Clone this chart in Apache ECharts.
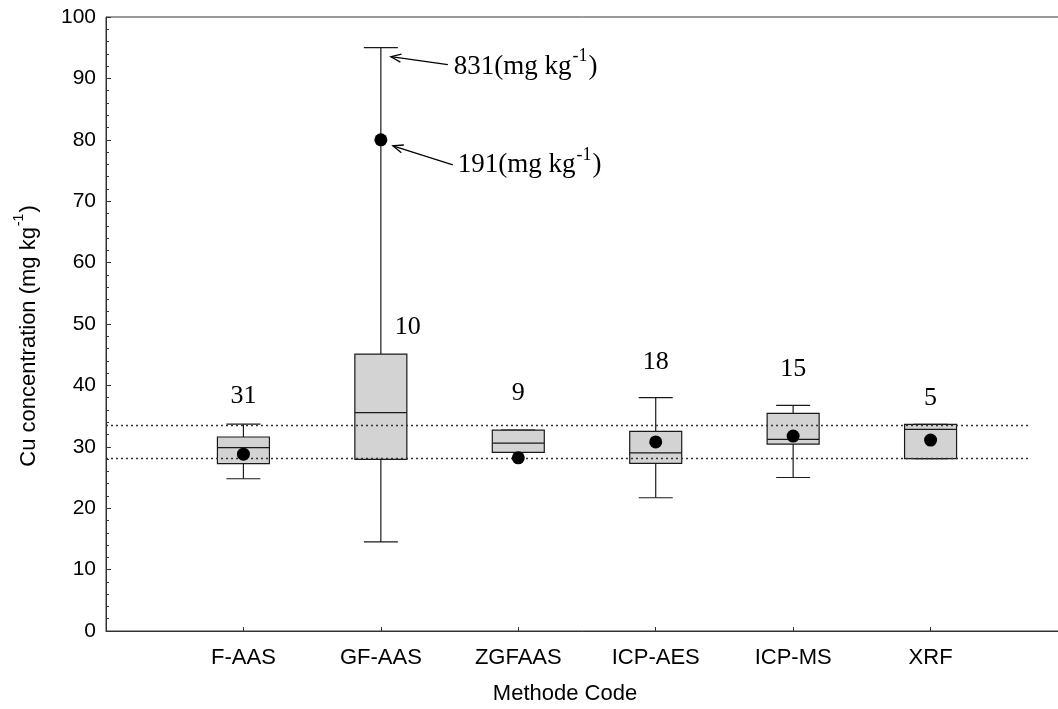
<!DOCTYPE html>
<html>
<head>
<meta charset="utf-8">
<script src="https://cdn.jsdelivr.net/npm/echarts@6/dist/echarts.min.js"></script>
<style>
html, body { margin: 0; padding: 0; background: #fff; }
#main { width: 1058px; height: 709px; }
</style>
</head>
<body>
<div id="main"></div>
<script>
// values (mg kg-1)
var methods = ['F-AAS', 'GF-AAS', 'ZGFAAS', 'ICP-AES', 'ICP-MS', 'XRF'];
var whiskerLow = [24.8, 14.5, 29.1, 21.7, 25.0, 28.06];
var q1 = [27.25, 27.96, 29.1, 27.3, 30.45, 28.06];
var median = [29.85, 35.55, 30.6, 29.0, 31.2, 32.85];
var q3 = [31.6, 45.1, 32.7, 32.5, 35.45, 33.65];
var whiskerHigh = [33.7, 95, 32.7, 38.0, 36.75, 33.65];
var means = [28.8, 80, 28.2, 30.8, 31.75, 31.1];
var counts = [31, 10, 9, 18, 15, 5];
var countY = [38.3, 49.5, 38.8, 43.8, 42.7, 37.9];
var refLines = [33.5, 28.2];
var offScale = ['831', '191'];   // true values of the clipped GF-AAS max and mean

var serif = 'Liberation Serif';
var sans = 'Liberation Sans';

var boxData = methods.map(function (m, i) {
  return [i + 1, whiskerLow[i], q1[i], median[i], q3[i], whiskerHigh[i]];
});
var meanData = methods.map(function (m, i) { return [i + 1, means[i]]; });
var countData = methods.map(function (m, i) {
  return {
    value: [i + 1, countY[i], counts[i]],
    label: { offset: i === 1 ? [27, 0] : [0, 0] }
  };
});

function renderBox(params, api) {
  var x = api.value(0);
  var lo = api.coord([x, api.value(1)]);
  var b1 = api.coord([x, api.value(2)]);
  var md = api.coord([x, api.value(3)]);
  var b3 = api.coord([x, api.value(4)]);
  var hi = api.coord([x, api.value(5)]);
  var cx = lo[0], hw = 26, cw = 17;
  var ls = { stroke: '#1a1a1a', lineWidth: 1.2 };
  return {
    type: 'group',
    children: [
      { type: 'line', shape: { x1: cx, y1: hi[1], x2: cx, y2: b3[1] }, style: ls },
      { type: 'line', shape: { x1: cx, y1: b1[1], x2: cx, y2: lo[1] }, style: ls },
      { type: 'line', shape: { x1: cx - cw, y1: hi[1], x2: cx + cw, y2: hi[1] }, style: ls },
      { type: 'line', shape: { x1: cx - cw, y1: lo[1], x2: cx + cw, y2: lo[1] }, style: ls },
      { type: 'rect', shape: { x: cx - hw, y: b3[1], width: 2 * hw, height: b1[1] - b3[1] },
        style: { fill: '#d3d3d3', stroke: '#1a1a1a', lineWidth: 1.2 } },
      { type: 'line', shape: { x1: cx - hw, y1: md[1], x2: cx + hw, y2: md[1] }, style: ls }
    ]
  };
}

var myChart = echarts.init(document.getElementById('main'));

myChart.setOption({
  animation: false,
  grid: {
    left: 106, top: 17, bottom: 78, right: -10,
    outerBoundsMode: 'none',
    containLabel: false,
    show: true, borderColor: '#333', borderWidth: 1
  },
  xAxis: {
    type: 'value', min: 0, max: 7, interval: 1,
    name: 'Methode Code',
    nameLocation: 'middle',
    nameGap: 52,
    nameTextStyle: { fontFamily: sans, fontSize: 22, color: '#000', padding: [0, 44, 0, 0] },
    axisLine: { lineStyle: { color: '#333', width: 1 } },
    axisTick: { inside: true, length: 4, lineStyle: { color: '#333' } },
    axisLabel: {
      fontFamily: sans, fontSize: 22, color: '#000', margin: 16,
      formatter: function (v) { return methods[v - 1] || ''; }
    },
    splitLine: { show: false }
  },
  yAxis: {
    type: 'value', min: 0, max: 100, interval: 10,
    name: '{a|Cu concentration (mg kg}{b|-1}{a|)}',
    nameLocation: 'middle',
    nameRotate: 90,
    nameGap: 62,
    nameTextStyle: {
      padding: [0, 24, 0, 0],
      rich: {
        a: { fontFamily: sans, fontSize: 22, color: '#000', lineHeight: 30, verticalAlign: 'middle' },
        b: { fontFamily: sans, fontSize: 14, color: '#000', lineHeight: 12, verticalAlign: 'bottom', padding: [0, 1, 18, 1] }
      }
    },
    axisLine: { show: true, lineStyle: { color: '#333', width: 1 } },
    axisTick: { show: true, inside: true, length: 5, lineStyle: { color: '#333' } },
    minorTick: { show: true, splitNumber: 5, length: 3, lineStyle: { color: '#333' } },
    axisLabel: { fontFamily: sans, fontSize: 21, color: '#000', margin: 10 },
    splitLine: { show: false }
  },
  series: [
    {
      type: 'custom',
      renderItem: renderBox,
      data: boxData,
      encode: { x: 0, y: [1, 2, 3, 4, 5] },
      z: 2
    },
    {
      type: 'scatter',
      data: meanData,
      symbol: 'circle',
      symbolSize: 13,
      itemStyle: { color: '#000', opacity: 1 },
      z: 5,
      markLine: {
        silent: true,
        symbol: 'none',
        label: { show: false },
        lineStyle: { type: [2, 3], color: '#333', width: 1.3 },
        data: refLines.map(function (v) {
          return [{ coord: [0, v] }, { coord: [6.72, v] }];
        })
      }
    },
    {
      type: 'scatter',
      data: countData,
      symbolSize: 0,
      silent: true,
      itemStyle: { color: '#000', opacity: 1 },
      label: {
        show: true, position: 'inside',
        fontFamily: serif, fontSize: 26, color: '#000', textBorderWidth: 0,
        formatter: function (p) { return p.value[2]; }
      },
      z: 6
    }
  ]
});

// arrows + text for the two off-scale GF-AAS values
function arrowGroup(pt, head, tail, textPos, label) {
  var hx = pt[0] + head[0], hy = pt[1] + head[1];
  var tx = pt[0] + tail[0], ty = pt[1] + tail[1];
  var ang = Math.atan2(ty - hy, tx - hx);
  var L = 11, A = 0.38;
  var st = { stroke: '#000', lineWidth: 1.3 };
  return [
    { type: 'line', shape: { x1: tx, y1: ty, x2: hx, y2: hy }, style: st },
    { type: 'polyline', shape: { points: [
        [hx + L * Math.cos(ang + A), hy + L * Math.sin(ang + A)],
        [hx, hy],
        [hx + L * Math.cos(ang - A), hy + L * Math.sin(ang - A)]
      ] }, style: { stroke: '#000', lineWidth: 1.3, fill: null } },
    { type: 'text', x: pt[0] + textPos[0], y: pt[1] + textPos[1],
      style: {
        text: '{n|' + label + '(mg kg}{s|-1}{n|)}',
        verticalAlign: 'middle',
        rich: {
          n: { fontFamily: serif, fontSize: 27, fill: '#000', lineHeight: 34, verticalAlign: 'middle' },
          s: { fontFamily: serif, fontSize: 18, fill: '#000', lineHeight: 16, verticalAlign: 'bottom', padding: [0, 1, 18, 1] }
        }
      } }
  ];
}

var pMax = myChart.convertToPixel({ gridIndex: 0 }, [2, whiskerHigh[1]]);
var pMean = myChart.convertToPixel({ gridIndex: 0 }, [2, means[1]]);
myChart.setOption({
  graphic: arrowGroup(pMax, [10, 9], [67, 17], [73, 19], offScale[0])
    .concat(arrowGroup(pMean, [12, 6], [72, 25], [77, 25], offScale[1]))
});
</script>
</body>
</html>
